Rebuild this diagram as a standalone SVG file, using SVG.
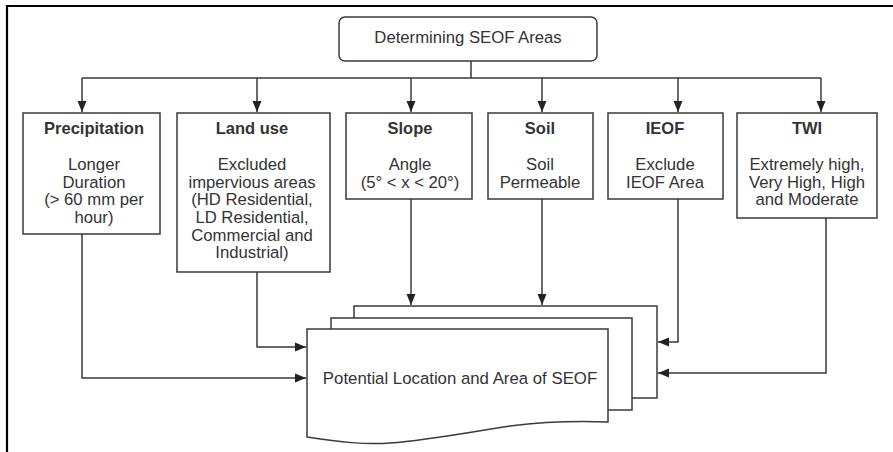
<svg xmlns="http://www.w3.org/2000/svg" width="893" height="452" viewBox="0 0 893 452">
<defs>
<marker id="ah" markerUnits="userSpaceOnUse" markerWidth="12" markerHeight="12" viewBox="0 0 12 12" refX="11" refY="6" orient="auto">
<path d="M0,1.5 L11,6 L0,10.5 Z" fill="#222"/>
</marker>
</defs>
<style>
.box{fill:#fff;stroke:#3a3a3a;stroke-width:1.5}
.ln{fill:none;stroke:#3a3a3a;stroke-width:1.5}
.arr{fill:none;stroke:#3a3a3a;stroke-width:1.5;marker-end:url(#ah)}
text{font-family:"Liberation Sans",Arial,sans-serif;fill:#333;text-anchor:middle}
.t{font-size:16.5px;font-weight:bold}
.b{font-size:16.7px}
</style>
<rect width="893" height="452" fill="#fff"/>
<path d="M7,452 V6 H893" fill="none" stroke="#000" stroke-width="2.2"/>
<g id="top">
<rect class="box" x="339" y="17" width="258" height="44" rx="6"/>
<text x="468" y="43" style="font-size:16.7px">Determining SEOF Areas</text>
</g>
<g id="precipitation">
<rect class="box" x="23" y="113" width="137" height="121"/>
<text class="t" x="94" y="134">Precipitation</text>
<text class="b" x="94" y="170">Longer</text>
<text class="b" x="94" y="187.7">Duration</text>
<text class="b" x="94" y="205.4">(&gt; 60 mm per</text>
<text class="b" x="94" y="223">hour)</text>
</g>
<g id="landuse">
<rect class="box" x="177" y="113" width="153" height="159"/>
<text class="t" x="252" y="134">Land use</text>
<text class="b" x="252" y="170">Excluded</text>
<text class="b" x="252" y="187.7">impervious areas</text>
<text class="b" x="252" y="205.4">(HD Residential,</text>
<text class="b" x="252" y="223">LD Residential,</text>
<text class="b" x="252" y="240.7">Commercial and</text>
<text class="b" x="252" y="258.4">Industrial)</text>
</g>
<g id="slope">
<rect class="box" x="346" y="113" width="126" height="86"/>
<text class="t" x="410" y="134">Slope</text>
<text class="b" x="410" y="170">Angle</text>
<text class="b" x="410" y="187.7">(5° &lt; x &lt; 20°)</text>
</g>
<g id="soil">
<rect class="box" x="488" y="113" width="105" height="86"/>
<text class="t" x="540" y="134">Soil</text>
<text class="b" x="540" y="170">Soil</text>
<text class="b" x="540" y="187.7">Permeable</text>
</g>
<g id="ieof">
<rect class="box" x="608" y="113" width="115" height="86"/>
<text class="t" x="665" y="134">IEOF</text>
<text class="b" x="665" y="170">Exclude</text>
<text class="b" x="665" y="187.7">IEOF Area</text>
</g>
<g id="twi">
<rect class="box" x="737" y="113" width="140" height="105"/>
<text class="t" x="807" y="134">TWI</text>
<text class="b" x="807" y="170">Extremely high,</text>
<text class="b" x="807" y="187.7">Very High, High</text>
<text class="b" x="807" y="205.4">and Moderate</text>
</g>
<g id="result">
<rect class="box" x="354" y="306" width="303" height="92"/>
<rect class="box" x="331" y="318" width="301" height="92"/>
<path class="box" d="M307,329 H608 V422 C580,421 550,421 510,426 C470,432 430,440 390,443 C365,445 340,442 307,437 Z"/>
<text x="460" y="384" style="font-size:16.8px">Potential Location and Area of SEOF</text>
</g>
<g id="connectors">
<path class="ln" d="M471,61 V78 M82,78 H821"/>
<path class="arr" d="M82,78 V112"/>
<path class="arr" d="M257,78 V112"/>
<path class="arr" d="M411,78 V112"/>
<path class="arr" d="M542,78 V112"/>
<path class="arr" d="M678,78 V112"/>
<path class="arr" d="M821,78 V112"/>
<path class="arr" d="M82,234 V378 H306"/>
<path class="arr" d="M257,272 V347 H306"/>
<path class="arr" d="M411,199 V305"/>
<path class="arr" d="M542,199 V305"/>
<path class="arr" d="M678,199 V342 H658"/>
<path class="arr" d="M826,218 V373 H658"/>
</g>
</svg>
